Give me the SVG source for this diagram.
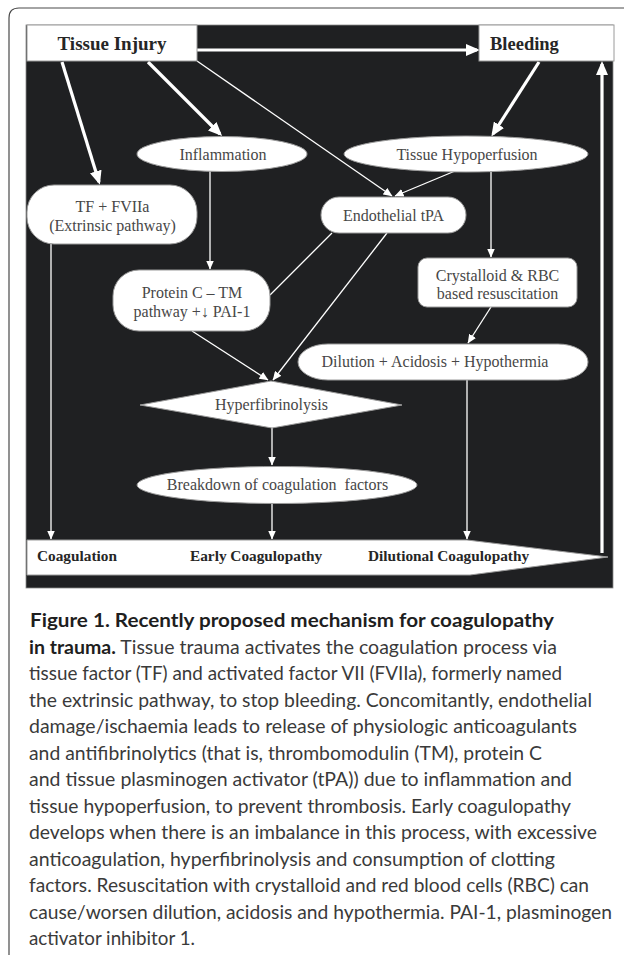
<svg xmlns="http://www.w3.org/2000/svg" width="624" height="955" viewBox="0 0 624 955">
<style>
.nodeshape{fill:#ffffff;stroke:#9a9a9a;stroke-width:1}
.t{font-family:"Liberation Serif","Times New Roman",serif;font-size:16px;fill:#474747;text-anchor:middle}
.tb{font-family:"Liberation Serif","Times New Roman",serif;font-weight:bold;fill:#262626}
.thin{stroke:#ffffff;stroke-width:1.3;fill:none}
.thick{stroke:#ffffff;stroke-width:3.2;fill:none}
.cap{font-family:"Lato","Open Sans",sans-serif;font-size:19px;fill:#3a3a3a}
.capb{font-weight:bold;fill:#1e1e1e}
</style>
<defs>
<marker id="ah" markerUnits="userSpaceOnUse" markerWidth="9" markerHeight="8" refX="8.5" refY="4" orient="auto">
<path d="M0,0 L9,4 L0,8 z" fill="#ffffff"/>
</marker>
<marker id="ahT" markerUnits="userSpaceOnUse" markerWidth="14" markerHeight="12" refX="11" refY="6" orient="auto">
<path d="M0,0 L14,6 L0,12 z" fill="#ffffff"/>
</marker>
</defs>
<rect width="624" height="955" fill="#ffffff"/>
<path d="M9,955 V18 Q9,8 19,8 H624" fill="none" stroke="#4a4a4a" stroke-width="1.2"/>
<rect x="26" y="25" width="587" height="563" fill="#1f2022" stroke="#8a8a8a" stroke-width="0.8"/>

<g id="connectors">
<line class="thick" x1="197" y1="50" x2="477" y2="50" marker-end="url(#ahT)"/>
<line class="thick" x1="62" y1="62" x2="99" y2="182" marker-end="url(#ahT)"/>
<line class="thick" x1="148" y1="62" x2="220" y2="134" marker-end="url(#ahT)"/>
<line class="thin" x1="197" y1="61" x2="392" y2="196" marker-end="url(#ah)"/>
<line class="thick" x1="539" y1="62" x2="493" y2="134" marker-end="url(#ahT)"/>
<line class="thick" x1="602" y1="553" x2="602" y2="64" marker-end="url(#ahT)"/>
<line class="thin" x1="210" y1="171" x2="210" y2="269" marker-end="url(#ah)"/>
<line class="thin" x1="455" y1="171" x2="395" y2="196" marker-end="url(#ah)"/>
<line class="thin" x1="491" y1="172" x2="491" y2="257" marker-end="url(#ah)"/>
<line class="thin" x1="332" y1="233" x2="270" y2="295"/>
<line class="thin" x1="387" y1="233" x2="273" y2="380" marker-end="url(#ah)"/>
<line class="thin" x1="192" y1="331" x2="268" y2="380" marker-end="url(#ah)"/>
<line class="thin" x1="491" y1="307" x2="468" y2="343" marker-end="url(#ah)"/>
<line class="thin" x1="51" y1="244" x2="51" y2="539" marker-end="url(#ah)"/>
<line class="thin" x1="272" y1="428" x2="272" y2="465" marker-end="url(#ah)"/>
<line class="thin" x1="272" y1="503" x2="272" y2="539" marker-end="url(#ah)"/>
<line class="thin" x1="467" y1="380" x2="467" y2="539" marker-end="url(#ah)"/>
</g>

<g id="tissue-injury">
<rect class="nodeshape" x="27" y="25" width="170" height="36"/>
<text class="tb" x="112" y="49.5" font-size="19" text-anchor="middle">Tissue Injury</text>
</g>
<g id="bleeding">
<rect class="nodeshape" x="479" y="25" width="135" height="36"/>
<text class="tb" x="490" y="49.5" font-size="18.5">Bleeding</text>
</g>
<g id="inflammation">
<ellipse class="nodeshape" cx="222" cy="154" rx="85" ry="17.5"/>
<text class="t" x="223" y="159.5">Inflammation</text>
</g>
<g id="tissue-hypoperfusion">
<ellipse class="nodeshape" cx="466" cy="154" rx="122" ry="18"/>
<text class="t" x="467" y="159.5">Tissue Hypoperfusion</text>
</g>
<g id="tf-fviia">
<rect class="nodeshape" x="27" y="185" width="170" height="59" rx="27" ry="27"/>
<text class="t" x="112.5" y="212">TF + FVIIa</text>
<text class="t" x="112.5" y="231">(Extrinsic pathway)</text>
</g>
<g id="endothelial-tpa">
<rect class="nodeshape" x="321" y="197" width="145" height="36" rx="18" ry="18"/>
<text class="t" x="393.5" y="220.5">Endothelial tPA</text>
</g>
<g id="protein-c">
<rect class="nodeshape" x="113" y="270" width="157" height="61" rx="26" ry="26"/>
<text class="t" x="192" y="298">Protein C – TM</text>
<text class="t" x="192" y="317">pathway +↓ PAI-1</text>
</g>
<g id="crystalloid">
<rect class="nodeshape" x="418" y="258" width="159" height="49" rx="9" ry="9"/>
<text class="t" x="497.5" y="280.5">Crystalloid &amp; RBC</text>
<text class="t" x="497.5" y="298.5">based resuscitation</text>
</g>
<g id="dilution">
<rect class="nodeshape" x="298" y="344" width="290" height="36" rx="30" ry="18"/>
<text class="t" x="435" y="367">Dilution + Acidosis + Hypothermia</text>
</g>
<g id="hyperfibrinolysis">
<polygon class="nodeshape" points="140,405 271,381 402,405 272,428"/>
<text class="t" x="271.5" y="409.5">Hyperfibrinolysis</text>
</g>
<g id="breakdown">
<ellipse class="nodeshape" cx="277" cy="485" rx="140" ry="18.5"/>
<text class="t" x="277.5" y="490" xml:space="preserve">Breakdown of coagulation  factors</text>
</g>
<g id="coagulopathy-arrow">
<polygon class="nodeshape" points="27,540 467,540 608,557 470,575 27,575"/>
<text class="tb" x="37" y="560.5" font-size="15.3">Coagulation</text>
<text class="tb" x="190" y="560.5" font-size="15.3">Early Coagulopathy</text>
<text class="tb" x="368" y="560.5" font-size="15.3">Dilutional Coagulopathy</text>
</g>

<g id="caption">
<text class="cap capb" x="30" y="627" textLength="524" lengthAdjust="spacingAndGlyphs">Figure 1. Recently proposed mechanism for coagulopathy</text>
<text class="cap" x="29" y="653.5" textLength="528" lengthAdjust="spacingAndGlyphs"><tspan class="capb">in trauma.</tspan> Tissue trauma activates the coagulation process via</text>
<text class="cap" x="29" y="680" textLength="533" lengthAdjust="spacingAndGlyphs">tissue factor (TF) and activated factor VII (FVIIa), formerly named</text>
<text class="cap" x="29" y="706.5" textLength="563" lengthAdjust="spacingAndGlyphs">the extrinsic pathway, to stop bleeding. Concomitantly, endothelial</text>
<text class="cap" x="29" y="733" textLength="548" lengthAdjust="spacingAndGlyphs">damage/ischaemia leads to release of physiologic anticoagulants</text>
<text class="cap" x="29" y="759.5" textLength="513" lengthAdjust="spacingAndGlyphs">and antifibrinolytics (that is, thrombomodulin (TM), protein C</text>
<text class="cap" x="29" y="786" textLength="543" lengthAdjust="spacingAndGlyphs">and tissue plasminogen activator (tPA)) due to inflammation and</text>
<text class="cap" x="29" y="812.5" textLength="542" lengthAdjust="spacingAndGlyphs">tissue hypoperfusion, to prevent thrombosis. Early coagulopathy</text>
<text class="cap" x="29" y="839" textLength="568" lengthAdjust="spacingAndGlyphs">develops when there is an imbalance in this process, with excessive</text>
<text class="cap" x="29" y="865.5" textLength="526" lengthAdjust="spacingAndGlyphs">anticoagulation, hyperfibrinolysis and consumption of clotting</text>
<text class="cap" x="29" y="892" textLength="560" lengthAdjust="spacingAndGlyphs">factors. Resuscitation with crystalloid and red blood cells (RBC) can</text>
<text class="cap" x="29" y="918.5" textLength="583" lengthAdjust="spacingAndGlyphs">cause/worsen dilution, acidosis and hypothermia. PAI-1, plasminogen</text>
<text class="cap" x="29" y="945" textLength="166" lengthAdjust="spacingAndGlyphs">activator inhibitor 1.</text>
</g>
</svg>
